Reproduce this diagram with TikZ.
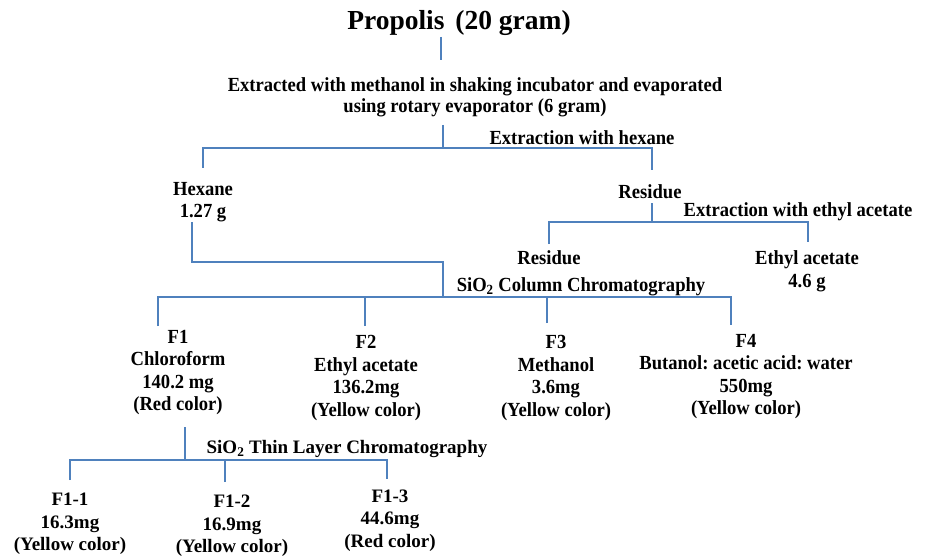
\documentclass[tikz,border=0pt]{standalone}
\usepackage{fontspec}
\setmainfont{Liberation Serif}
\newfontfamily\condfont{Liberation Serif}[FakeStretch=0.93]
\definecolor{ln}{HTML}{4F81BD}
\begin{document}
\frenchspacing
\begin{tikzpicture}[x=1pt,y=-1pt,
  conn/.style={draw=ln,line width=1.7pt},
  mid/.style={inner sep=0pt,align=center,font={\condfont\bfseries\fontsize{20}{22.6}\selectfont}},
  low/.style={inner sep=0pt,align=center,font={\bfseries\fontsize{19}{22.5}\selectfont}},
  big/.style={inner sep=0pt,font={\bfseries\fontsize{27.5}{30}\selectfont}}]
\useasboundingbox (0,0) rectangle (925,556);
% text nodes
\node[big] (prop) at (459,23) {Propolis\hspace{4pt} (20 gram)};
\node[mid,font={\condfont\bfseries\fontsize{20}{21}\selectfont}] (ext) at (475,97) {Extracted with methanol in shaking incubator and evaporated\\using rotary evaporator (6 gram)};
\node[mid] (hexl) at (582,138) {Extraction with hexane};
\node[mid] (hex) at (203,202) {Hexane\\1.27 g};
\node[mid] (res1) at (650,192) {Residue};
\node[mid] (eal) at (798,212) {Extraction with ethyl acetate};
\node[mid] (res2) at (549,258) {Residue};
\node[mid] (ea) at (807,271) {Ethyl acetate\\4.6 g};
\node[mid] (ccl) at (581,287) {SiO\textsubscript{2} Column Chromatography};
\node[mid] (f1) at (178,372.5) {F1\\Chloroform\\140.2 mg\\(Red color)};
\node[mid] (f2) at (366,378) {F2\\Ethyl acetate\\136.2mg\\(Yellow color)};
\node[mid] (f3) at (556,378) {F3\\Methanol\\3.6mg\\(Yellow color)};
\node[mid] (f4) at (746,376.5) {F4\\Butanol: acetic acid: water\\550mg\\(Yellow color)};
\node[low] (tll) at (347,449) {SiO\textsubscript{2} Thin Layer Chromatography};
\node[low] (f11) at (70,524) {F1-1\\16.3mg\\(Yellow color)};
\node[low] (f12) at (232,526) {F1-2\\16.9mg\\(Yellow color)};
\node[low] (f13) at (390,520.5) {F1-3\\44.6mg\\(Red color)};
% junction coordinates
\coordinate (p0) at (441,37);   \coordinate (p1) at (441,60);
\coordinate (e0) at (443,125);  \coordinate (e1) at (443,148);
\coordinate (hL) at (203,148);  \coordinate (hR) at (652,148);
\coordinate (hexT) at (203,168); \coordinate (res1T) at (652,170);
\coordinate (r0) at (652,203);  \coordinate (r1) at (652,222);
\coordinate (rL) at (549,222);  \coordinate (rR) at (808,222);
\coordinate (res2T) at (549,244); \coordinate (eaT) at (808,242);
\coordinate (x0) at (192,222);  \coordinate (x1) at (192,262);
\coordinate (x2) at (443,262);  \coordinate (x3) at (443,297);
\coordinate (cL) at (158,297);  \coordinate (cR) at (731,297);
\coordinate (f1T) at (158,326); \coordinate (f2T) at (365,326);
\coordinate (f3T) at (547,323); \coordinate (f4T) at (731,325);
\coordinate (t0) at (185,427);  \coordinate (t1) at (185,460);
\coordinate (tL) at (70,460);   \coordinate (tR) at (387,460);
\coordinate (f11T) at (70,480); \coordinate (f12T) at (225,482);
\coordinate (f13T) at (387,479);
% connectors
\draw[conn] (p0) -- (p1);
\draw[conn] (e0) -- (e1);
\draw[conn] (hexT) -- (hL) -- (hR) -- (res1T);
\draw[conn] (r0) -- (r1);
\draw[conn] (res2T) -- (rL) -- (rR) -- (eaT);
\draw[conn] (x0) -- (x1) -- (x2) -- (x3);
\draw[conn] (f1T) -- (cL) -- (cR) -- (f4T);
\draw[conn] (f2T) -- (f2T |- cL);
\draw[conn] (f3T) -- (f3T |- cL);
\draw[conn] (t0) -- (t1);
\draw[conn] (f11T) -- (tL) -- (tR) -- (f13T);
\draw[conn] (f12T) -- (f12T |- tL);
\end{tikzpicture}
\end{document}
